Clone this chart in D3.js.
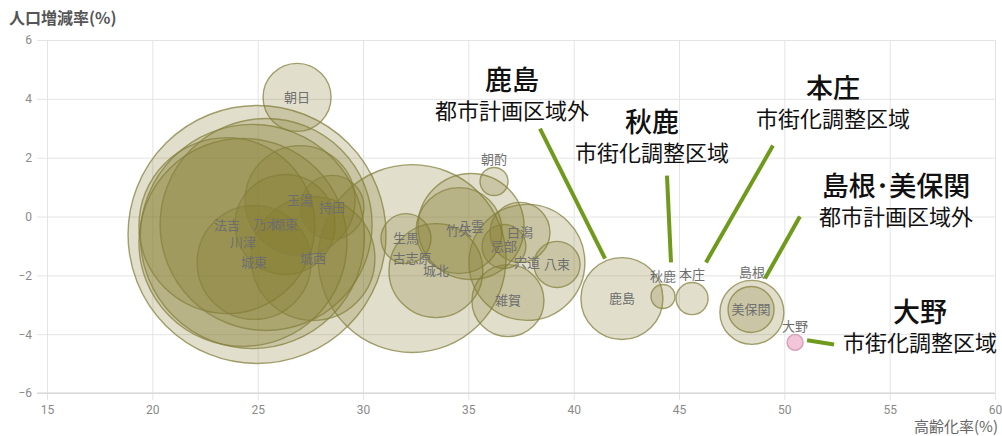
<!DOCTYPE html>
<html>
<head>
<meta charset="utf-8">
<script src="https://cdn.jsdelivr.net/npm/d3@7"></script>
<style>
  body { margin: 0; background: #fff; }
  svg { display: block; font-family: "Noto Sans CJK JP", "Noto Sans", sans-serif; }
  .grid line { stroke: #e4e4e4; }
  .grid text { fill: #8a8a8a; font-family: Roboto, "Noto Sans", sans-serif; font-size: 12px; }
</style>
</head>
<body>
<div id="chart"></div>
<script>
//bubble data: district, aging rate (%), population change (%), population
var names = ["", "", "川津", "法吉", "乃木", "湖東", "城東", "城西", "玉湯", "持田", "朝日",
  "古志原", "生馬", "城北", "八雲", "竹矢", "宍道", "白潟", "忌部", "八束", "雑賀", "朝酌",
  "鹿島", "秋鹿", "本庄", "島根", "美保関", "大野"];
var aging = [24.97, 24.75, 24.30, 23.54, 25.40, 26.30, 24.83, 27.63, 27.01, 28.53, 26.87,
  32.33, 32.04, 33.46, 35.13, 34.56, 37.78, 37.45, 36.69, 39.21, 36.88, 36.22,
  42.29, 44.24, 45.62, 48.46, 48.42, 50.51];
var growth = [-0.61, -0.68, -0.88, -0.31, -0.27, -0.27, -1.56, -1.43, 0.54, 0.31, 4.05,
  -1.43, -0.75, -1.84, -0.34, -0.48, -1.56, -0.54, -1.02, -1.63, -2.86, 1.19,
  -2.79, -2.72, -2.79, -3.26, -3.16, -4.28];
var population = [20000, 15100, 13000, 9300, 13500, 3000, 3900, 4600, 3640, 1230, 1390,
  10600, 750, 2650, 3380, 2220, 4040, 1080, 580, 640, 1560, 236,
  2020, 173, 308, 1230, 636, 77];

//tick labels
var xTicks = [15, 20, 25, 30, 35, 40, 45, 50, 55, 60];
var yTicks = [-6, -4, -2, 0, 2, 4, 6];

//callouts: title, subtitle, anchor (data units), leader line (data units)
var noteTitles = ["鹿島", "秋鹿", "本庄", "島根･美保関", "大野"];
var noteSubs = ["都市計画区域外", "市街化調整区域", "市街化調整区域", "都市計画区域外", "市街化調整区域"];
var noteAt = [[37.07, 4.62], [43.72, 3.20], [52.31, 4.35], [55.30, 1.02], [56.44, -3.26]];
var noteLines = [
  [[38.40, 2.99], [41.49, -1.43]],
  [[44.43, 1.39], [44.62, -1.56]],
  [[49.46, 2.41], [46.28, -1.56]],
  [[50.74, 0.00], [49.08, -2.11]],
  [[51.08, -4.21], [52.36, -4.35]]
];

var W = 1002, H = 436;
var x = d3.scaleLinear().domain([15, 60]).range([47, 995]);
var y = d3.scaleLinear().domain([-6, 6]).range([393, 40]);
var r = d3.scaleSqrt().domain([0, 20000]).range([0, 129]);

var svg = d3.select("#chart").append("svg")
  .attr("width", W)
  .attr("height", H);

//grid
svg.append("g")
  .attr("class", "grid")
  .attr("transform", "translate(37,0)")
  .call(d3.axisLeft(y).tickValues(yTicks).tickSize(-(995 - 37)).tickPadding(5))
  .call(function (g) { g.select(".domain").remove(); });

svg.append("g")
  .attr("class", "grid")
  .attr("transform", "translate(0,400)")
  .call(d3.axisBottom(x).tickValues(xTicks).tickSize(-(400 - 40)).tickPadding(5))
  .call(function (g) { g.select(".domain").remove(); });

svg.append("line")
  .attr("x1", 37).attr("x2", 995)
  .attr("y1", y(-6)).attr("y2", y(-6))
  .style("stroke", "#cfcfcf");

//axis titles
svg.append("text")
  .attr("x", 9).attr("y", 24)
  .style("font-size", "16px")
  .style("font-weight", "bold")
  .style("fill", "#555")
  .text("人口増減率(%)");

svg.append("text")
  .attr("x", 998).attr("y", 432)
  .attr("text-anchor", "end")
  .style("font-size", "15px")
  .style("fill", "#666")
  .text("高齢化率(%)");

//bubbles
var idx = d3.range(names.length);
svg.append("g").selectAll("circle")
  .data(idx)
  .enter().append("circle")
  .attr("cx", function (i) { return x(aging[i]); })
  .attr("cy", function (i) { return y(growth[i]); })
  .attr("r", function (i) { return r(population[i]); })
  .style("fill", function (i) { return names[i] === "大野" ? "#f2bfd4" : "#80782a"; })
  .style("fill-opacity", function (i) { return names[i] === "大野" ? 0.9 : 0.24; })
  .style("stroke", function (i) { return names[i] === "大野" ? "#c98aa8" : "#858140"; })
  .style("stroke-opacity", 0.75)
  .style("stroke-width", 1.4);

//bubble labels (small ones go above the bubble)
var above = ["島根"];
svg.append("g").selectAll("text")
  .data(idx.filter(function (i) { return names[i] !== ""; }))
  .enter().append("text")
  .attr("x", function (i) { return x(aging[i]); })
  .attr("y", function (i) {
    var rr = r(population[i]);
    if (rr < 20 || above.indexOf(names[i]) > -1) return y(growth[i]) - rr - 8;
    return y(growth[i]);
  })
  .attr("dy", "0.35em")
  .attr("text-anchor", "middle")
  .style("font-size", "13px")
  .style("fill", "#6e6e6e")
  .text(function (i) { return names[i]; });

//callouts
var notes = svg.append("g");
noteLines.forEach(function (l) {
  notes.append("line")
    .attr("x1", x(l[0][0])).attr("y1", y(l[0][1]))
    .attr("x2", x(l[1][0])).attr("y2", y(l[1][1]))
    .style("stroke", "#6f9a1c")
    .style("stroke-width", 4);
});
noteTitles.forEach(function (t, i) {
  notes.append("text")
    .attr("x", x(noteAt[i][0]))
    .attr("y", y(noteAt[i][1]))
    .attr("dy", "0.35em")
    .attr("text-anchor", "middle")
    .style("font-size", "27px")
    .style("font-weight", 500)
    .style("fill", "#111")
    .text(t);
  notes.append("text")
    .attr("x", x(noteAt[i][0]))
    .attr("y", y(noteAt[i][1]) + 31)
    .attr("dy", "0.35em")
    .attr("text-anchor", "middle")
    .style("font-size", "22px")
    .style("fill", "#111")
    .text(noteSubs[i]);
});
</script>
</body>
</html>
